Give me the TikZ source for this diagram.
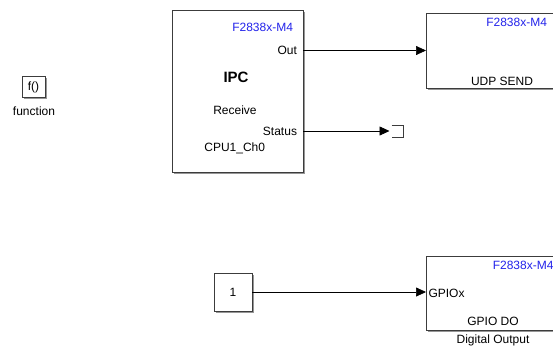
\documentclass[tikz,border=0pt]{standalone}
\usepackage{fontspec}
\setmainfont{Liberation Sans}
\usetikzlibrary{arrows.meta}
\definecolor{mblue}{RGB}{35,35,235}
\definecolor{bord}{RGB}{60,60,60}
\definecolor{shad}{RGB}{150,150,150}
\tikzset{
  blk/.style={draw=bord, line width=0.9pt, fill=white, inner sep=0pt, outer sep=0pt},
  shd/.style={fill=shad, draw=none, inner sep=0pt, outer sep=0pt},
  txt/.style={inner sep=0pt, outer sep=0pt, font=\fontsize{12}{14}\selectfont},
  btxt/.style={txt, text=mblue},
  wire/.style={draw=black, line width=0.7pt},
  arr/.style={wire, -{Triangle[length=10pt,width=9pt]}},
}
\begin{document}
\begin{tikzpicture}[x=1pt,y=-1pt]
\useasboundingbox (0,0) rectangle (553,346);
\clip (0,0) rectangle (553,346);
% shadows
\node[shd, minimum width=131pt, minimum height=162pt] (ipcs) at (239,92.5) {};
\node[shd, minimum width=131pt, minimum height=75pt] (udps) at (493,52) {};
\node[shd, minimum width=23pt, minimum height=21pt] (fns) at (35,88) {};
\node[shd, minimum width=38pt, minimum height=38pt] (cs) at (234.5,293.5) {};
\node[shd, minimum width=134pt, minimum height=74pt] (gpios) at (494.5,294.5) {};
% blocks
\node[blk, minimum width=131pt, minimum height=162pt] (ipc) at (237.5,91) {};
\node[blk, minimum width=131pt, minimum height=75pt] (udp) at (491.5,50.5) {};
\node[blk, minimum width=23pt, minimum height=21pt] (fn) at (33.5,86.5) {};
\node[blk, minimum width=38pt, minimum height=38pt] (cst) at (233,292) {};
\node[blk, minimum width=134pt, minimum height=74pt] (gpio) at (493,293) {};
% IPC texts
\node[btxt, anchor=east] (ipct1) at (293,27.5) {F2838x-M4};
\node[txt, anchor=east] (ipcout) at (297,50) {Out};
\node[txt, anchor=center, font=\fontsize{15}{17}\selectfont\bfseries] (ipct2) at (236,77.5) {IPC};
\node[txt, anchor=center] (ipct3) at (235,110) {Receive};
\node[txt, anchor=east] (ipcst) at (297,131) {Status};
\node[txt, anchor=center] (ipct4) at (234.7,148.5) {CPU1\_Ch0};
% UDP texts
\node[btxt, anchor=east] (udpt1) at (547,22.5) {F2838x-M4};
\node[txt, anchor=center] (udpt2) at (502,81) {UDP SEND};
% function
\node[txt, anchor=center] (fnt) at (33.5,87) {f()};
\node[txt, anchor=center] (fnl) at (34,111.5) {function};
% constant
\node[txt, anchor=center] (cstt) at (233,292.5) {1};
% GPIO
\node[btxt, anchor=east] (gpiot1) at (553.5,265) {F2838x-M4};
\node[txt, anchor=west] (gpiot2) at (428.5,293) {GPIOx};
\node[txt, anchor=center] (gpiot3) at (493,321.5) {GPIO DO};
\node[txt, anchor=center] (gpiol) at (493,340.5) {Digital Output};
% ports and terminator
\coordinate (pout) at (ipc.east |- 0,50.5);
\coordinate (pstat) at (ipc.east |- 0,131);
\coordinate (udpin) at (udp.west |- 0,50.5);
\coordinate (term) at (389.5,131);
\coordinate (gpioin) at (gpio.west |- cst.east);
\draw[arr] (pout) -- (udpin);
\draw[arr] (pstat) -- (term);
\draw[arr] (cst.east) -- (gpioin);
\draw[draw=bord, line width=0.8pt] ([shift={(2,-6)}]term) -- ++(12,0) -- ++(0,12) -- ++(-12,0);
\end{tikzpicture}
\end{document}
